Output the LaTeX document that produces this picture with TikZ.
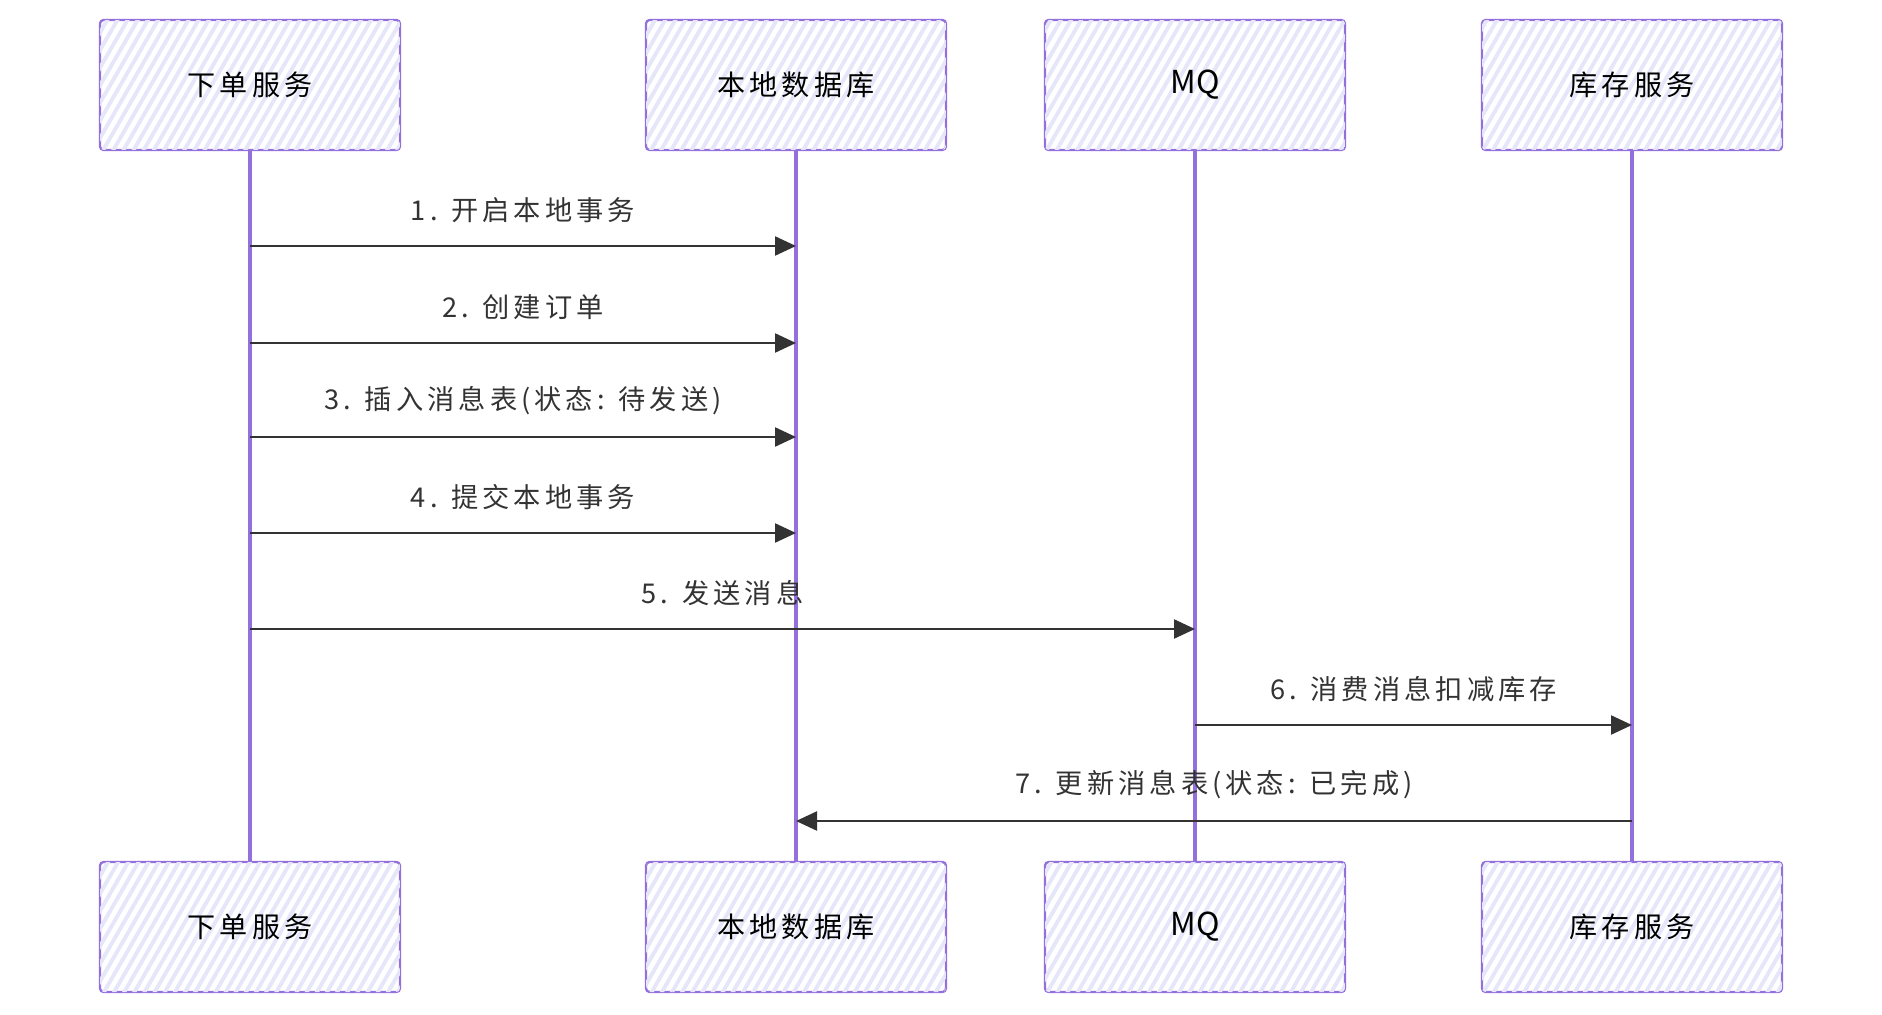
\documentclass[tikz,border=0pt]{standalone}
\usepackage{fontspec}
\setmainfont[LetterSpace=15]{Noto Sans CJK SC}
\newfontfamily\latinfont{Noto Sans CJK SC}
\usetikzlibrary{arrows.meta,patterns.meta,backgrounds}
\definecolor{actorline}{HTML}{9370DB}
\definecolor{actorfill}{HTML}{E6E6FB}
\definecolor{msgline}{HTML}{333333}

\begin{document}
\begin{tikzpicture}[x=0.02cm,y=-0.02cm,
  actor/.style={draw=actorline, line width=1.3pt, rounded corners=2pt, minimum width=6cm, minimum height=2.6cm, fill=white, postaction={pattern={Lines[angle=60,distance=5pt,line width=2.2pt]}, pattern color=actorfill}, font=\fontsize{16}{18}\selectfont},
  life/.style={draw=actorline, line width=1.8pt},
  msg/.style={draw=msgline, line width=1.3pt, -{Triangle[length=0.42cm,width=0.38cm]}},
  lbl/.style={midway, yshift=0.72cm, text=msgline, font=\fontsize{15.5}{18}\selectfont}]
    \useasboundingbox (0,0) rectangle (1882,1014);

    % participants, top and bottom
    \node[actor] (orderT) at (250,85) {下单服务};
    \node[actor] (dbT) at (796,85) {本地数据库};
    \node[actor] (mqT) at (1195,85) {\latinfont\fontsize{18}{20}\selectfont MQ};
    \node[actor] (stockT) at (1632,85) {库存服务};
    \node[actor] (orderB) at (250,927) {下单服务};
    \node[actor] (dbB) at (796,927) {本地数据库};
    \node[actor] (mqB) at (1195,927) {\latinfont\fontsize{18}{20}\selectfont MQ};
    \node[actor] (stockB) at (1632,927) {库存服务};

    % lifelines
    \begin{scope}[on background layer]
    \draw[life] (orderT) -- (orderB);
    \draw[life] (dbT) -- (dbB);
    \draw[life] (mqT) -- (mqB);
    \draw[life] (stockT) -- (stockB);
    \end{scope}

    % message rows
    \coordinate (r1) at (0,246);
    \coordinate (r2) at (0,343);
    \coordinate (r3) at (0,437);
    \coordinate (r4) at (0,533);
    \coordinate (r5) at (0,629);
    \coordinate (r6) at (0,725);
    \coordinate (r7) at (0,821);

    \draw[msg] (orderT |- r1) -- node[lbl] {1. 开启本地事务} (dbT |- r1);
    \draw[msg] (orderT |- r2) -- node[lbl] {2. 创建订单} (dbT |- r2);
    \draw[msg] (orderT |- r3) -- node[lbl] {3. 插入消息表(状态: 待发送)} (dbT |- r3);
    \draw[msg] (orderT |- r4) -- node[lbl] {4. 提交本地事务} (dbT |- r4);
    \draw[msg] (orderT |- r5) -- node[lbl] {5. 发送消息} (mqT |- r5);
    \draw[msg] (mqT |- r6) -- node[lbl] {6. 消费消息扣减库存} (stockT |- r6);
    \draw[msg] (stockT |- r7) -- node[lbl] {7. 更新消息表(状态: 已完成)} (dbT |- r7);
\end{tikzpicture}
\end{document}
